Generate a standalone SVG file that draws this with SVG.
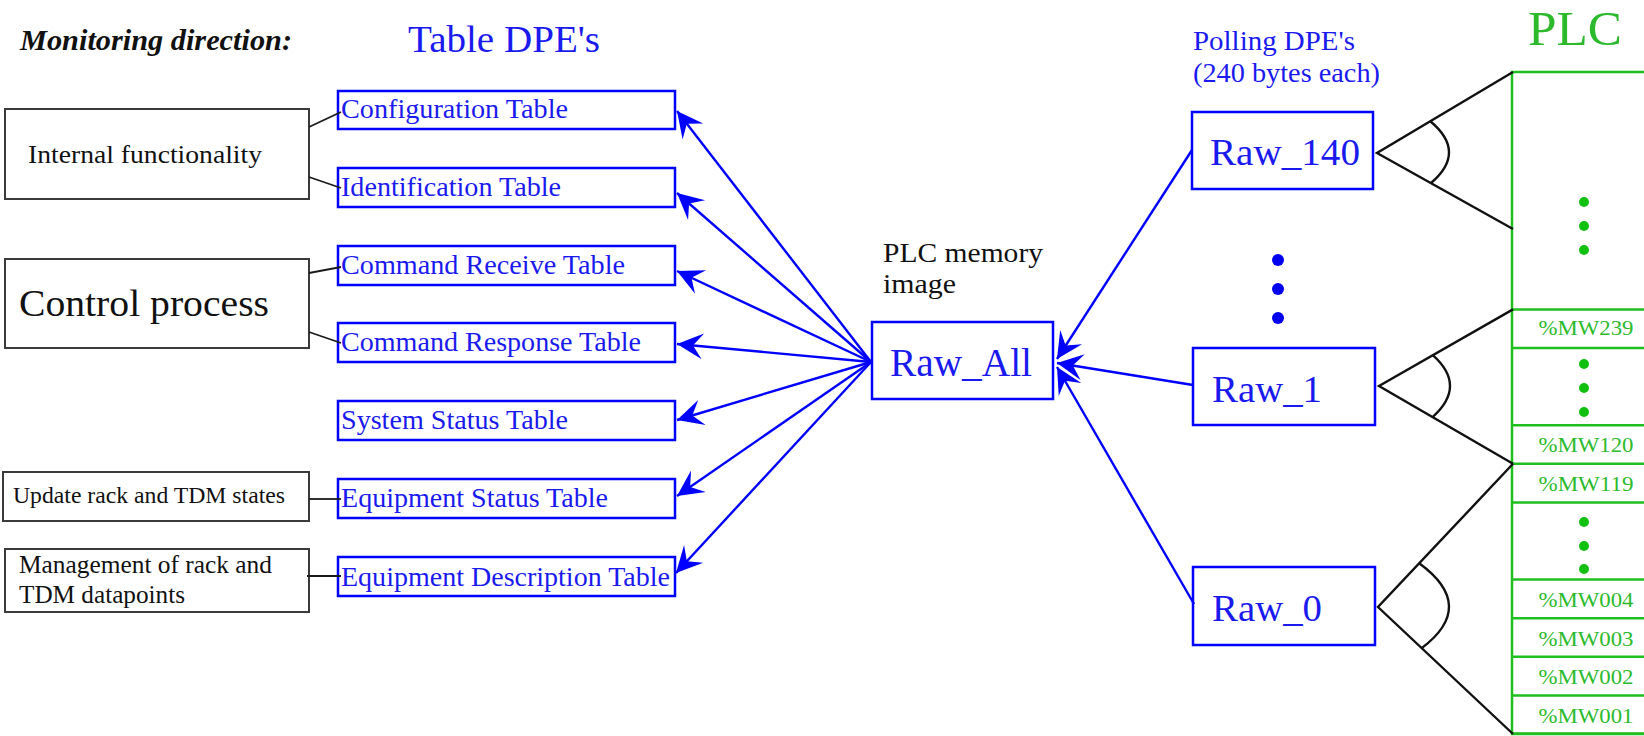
<svg xmlns="http://www.w3.org/2000/svg" width="1644" height="736" viewBox="0 0 1644 736">
<style>
.bg{fill:#ffffff}
.bbox{fill:#ffffff;stroke:#0000ff;stroke-width:2.5}
.kbox{fill:#ffffff;stroke:#3a3a3a;stroke-width:2}
.blink{stroke:#0000ff;stroke-width:2.4;fill:none}
.klink{stroke:#1a1a1a;stroke-width:1.8;fill:none}
.kfan{stroke:#111111;stroke-width:2.4;fill:none}
.g{stroke:#1fbf1f;stroke-width:2.5;fill:none}
.t{font-family:"Liberation Serif","Times New Roman",serif}
.bt{fill:#1a1aee}
.kt{fill:#111111}
.gt{fill:#2cba2c}
.dotb{fill:#0000ee}
.dotg{fill:#12c012}
</style>
<defs>
<marker id="ah" markerUnits="userSpaceOnUse" markerWidth="30" markerHeight="30" viewBox="-28 -15 30 30" refX="0" refY="0" orient="auto" overflow="visible">
<path d="M0,0 L-26,-13 L-16,0 L-26,13 Z" fill="#0000ff"/>
</marker>
</defs>
<rect class="bg" x="0" y="0" width="1644" height="736"/>

<g id="headings">
<text class="t kt" x="20" y="50" font-size="29" font-weight="bold" font-style="italic" textLength="272" lengthAdjust="spacingAndGlyphs">Monitoring direction:</text>
<text class="t bt" x="408" y="52" font-size="38" textLength="192" lengthAdjust="spacingAndGlyphs">Table DPE's</text>
<text class="t bt" x="1193" y="50" font-size="28" textLength="162" lengthAdjust="spacingAndGlyphs">Polling DPE's</text>
<text class="t bt" x="1193" y="82" font-size="28" textLength="187" lengthAdjust="spacingAndGlyphs">(240 bytes each)</text>
<text class="t gt" x="1528" y="45" font-size="49" textLength="94" lengthAdjust="spacingAndGlyphs">PLC</text>
</g>

<g id="internal-functionality">
<rect class="kbox" x="5" y="109" width="304" height="90"/>
<text class="t kt" x="28" y="163" font-size="26" textLength="234" lengthAdjust="spacingAndGlyphs">Internal functionality</text>
</g>
<g id="control-process">
<rect class="kbox" x="5" y="259" width="304" height="89"/>
<text class="t kt" x="19" y="316" font-size="38" textLength="250" lengthAdjust="spacingAndGlyphs">Control process</text>
</g>
<g id="update-rack">
<rect class="kbox" x="3" y="472" width="306" height="49"/>
<text class="t kt" x="13" y="503" font-size="24" textLength="272" lengthAdjust="spacingAndGlyphs">Update rack and TDM states</text>
</g>
<g id="management">
<rect class="kbox" x="5" y="549" width="304" height="63"/>
<text class="t kt" x="19" y="573" font-size="25" textLength="253" lengthAdjust="spacingAndGlyphs">Management of rack and</text>
<text class="t kt" x="19" y="603" font-size="25" textLength="166" lengthAdjust="spacingAndGlyphs">TDM datapoints</text>
</g>

<g id="configuration-table">
<rect class="bbox" x="338" y="91" width="337" height="38"/>
<text class="t bt" x="341" y="118" font-size="28" textLength="227" lengthAdjust="spacingAndGlyphs">Configuration Table</text>
</g>
<g id="identification-table">
<rect class="bbox" x="338" y="168" width="337" height="39"/>
<text class="t bt" x="341" y="196" font-size="28" textLength="220" lengthAdjust="spacingAndGlyphs">Identification Table</text>
</g>
<g id="command-receive-table">
<rect class="bbox" x="338" y="246" width="337" height="39"/>
<text class="t bt" x="341" y="274" font-size="28" textLength="284" lengthAdjust="spacingAndGlyphs">Command Receive Table</text>
</g>
<g id="command-response-table">
<rect class="bbox" x="338" y="323" width="337" height="39"/>
<text class="t bt" x="341" y="351" font-size="28" textLength="300" lengthAdjust="spacingAndGlyphs">Command Response Table</text>
</g>
<g id="system-status-table">
<rect class="bbox" x="338" y="401" width="337" height="39"/>
<text class="t bt" x="341" y="429" font-size="28" textLength="227" lengthAdjust="spacingAndGlyphs">System Status Table</text>
</g>
<g id="equipment-status-table">
<rect class="bbox" x="338" y="479" width="337" height="39"/>
<text class="t bt" x="341" y="507" font-size="28" textLength="267" lengthAdjust="spacingAndGlyphs">Equipment Status Table</text>
</g>
<g id="equipment-description-table">
<rect class="bbox" x="338" y="557" width="337" height="39"/>
<text class="t bt" x="341" y="586" font-size="28" textLength="329" lengthAdjust="spacingAndGlyphs">Equipment Description Table</text>
</g>

<g id="raw-all">
<text class="t kt" x="883" y="262" font-size="28" textLength="160" lengthAdjust="spacingAndGlyphs">PLC memory</text>
<text class="t kt" x="883" y="293" font-size="28" textLength="73" lengthAdjust="spacingAndGlyphs">image</text>
<rect class="bbox" x="872" y="322" width="181" height="77"/>
<text class="t bt" x="890" y="376" font-size="39" textLength="142" lengthAdjust="spacingAndGlyphs">Raw_All</text>
</g>

<g id="raw-140">
<rect class="bbox" x="1192" y="112" width="181" height="77"/>
<text class="t bt" x="1210" y="165" font-size="38" textLength="150" lengthAdjust="spacingAndGlyphs">Raw_140</text>
</g>
<g id="raw-dots">
<circle class="dotb" cx="1278" cy="260" r="6"/>
<circle class="dotb" cx="1278" cy="289" r="6"/>
<circle class="dotb" cx="1278" cy="318" r="6"/>
</g>
<g id="raw-1">
<rect class="bbox" x="1193" y="348" width="182" height="77"/>
<text class="t bt" x="1212" y="402" font-size="38" textLength="110" lengthAdjust="spacingAndGlyphs">Raw_1</text>
</g>
<g id="raw-0">
<rect class="bbox" x="1193" y="567" width="182" height="78"/>
<text class="t bt" x="1212" y="621" font-size="38" textLength="110" lengthAdjust="spacingAndGlyphs">Raw_0</text>
</g>

<g id="plc">
<rect class="g" x="1512" y="72" width="140" height="662"/>
<line class="g" x1="1512" y1="309.4" x2="1644" y2="309.4"/>
<line class="g" x1="1512" y1="348" x2="1644" y2="348"/>
<line class="g" x1="1512" y1="425.2" x2="1644" y2="425.2"/>
<line class="g" x1="1512" y1="463.8" x2="1644" y2="463.8"/>
<line class="g" x1="1512" y1="502.4" x2="1644" y2="502.4"/>
<line class="g" x1="1512" y1="579.6" x2="1644" y2="579.6"/>
<line class="g" x1="1512" y1="618.2" x2="1644" y2="618.2"/>
<line class="g" x1="1512" y1="656.8" x2="1644" y2="656.8"/>
<line class="g" x1="1512" y1="695.4" x2="1644" y2="695.4"/>
<line class="g" x1="1512" y1="733.5" x2="1644" y2="733.5"/>
<circle class="dotg" cx="1584" cy="202" r="5"/>
<circle class="dotg" cx="1584" cy="226" r="5"/>
<circle class="dotg" cx="1584" cy="250" r="5"/>
<circle class="dotg" cx="1584" cy="364" r="5"/>
<circle class="dotg" cx="1584" cy="388" r="5"/>
<circle class="dotg" cx="1584" cy="412" r="5"/>
<circle class="dotg" cx="1584" cy="522" r="5"/>
<circle class="dotg" cx="1584" cy="546" r="5"/>
<circle class="dotg" cx="1584" cy="569" r="5"/>
<text class="t gt" x="1586" y="335" font-size="22" text-anchor="middle" textLength="95" lengthAdjust="spacingAndGlyphs">%MW239</text>
<text class="t gt" x="1586" y="452" font-size="22" text-anchor="middle" textLength="95" lengthAdjust="spacingAndGlyphs">%MW120</text>
<text class="t gt" x="1586" y="491" font-size="22" text-anchor="middle" textLength="95" lengthAdjust="spacingAndGlyphs">%MW119</text>
<text class="t gt" x="1586" y="607" font-size="22" text-anchor="middle" textLength="95" lengthAdjust="spacingAndGlyphs">%MW004</text>
<text class="t gt" x="1586" y="646" font-size="22" text-anchor="middle" textLength="95" lengthAdjust="spacingAndGlyphs">%MW003</text>
<text class="t gt" x="1586" y="684" font-size="22" text-anchor="middle" textLength="95" lengthAdjust="spacingAndGlyphs">%MW002</text>
<text class="t gt" x="1586" y="723" font-size="22" text-anchor="middle" textLength="95" lengthAdjust="spacingAndGlyphs">%MW001</text>
</g>

<g id="connectors">
<line class="klink" x1="309" y1="127" x2="341" y2="112"/>
<line class="klink" x1="309" y1="177" x2="341" y2="188"/>
<line class="klink" x1="309" y1="273" x2="341" y2="267"/>
<line class="klink" x1="309" y1="332" x2="341" y2="343"/>
<line class="klink" x1="309" y1="499" x2="341" y2="499"/>
<line class="klink" x1="307" y1="576" x2="341" y2="576"/>

<line class="blink" x1="871" y1="362" x2="677" y2="111" marker-end="url(#ah)"/>
<line class="blink" x1="871" y1="362" x2="677" y2="193" marker-end="url(#ah)"/>
<line class="blink" x1="871" y1="362" x2="677" y2="271" marker-end="url(#ah)"/>
<line class="blink" x1="871" y1="362" x2="677" y2="344" marker-end="url(#ah)"/>
<line class="blink" x1="871" y1="362" x2="677" y2="420" marker-end="url(#ah)"/>
<line class="blink" x1="871" y1="362" x2="677" y2="496" marker-end="url(#ah)"/>
<line class="blink" x1="871" y1="362" x2="676" y2="573" marker-end="url(#ah)"/>

<line class="blink" x1="1192" y1="150" x2="1057" y2="359" marker-end="url(#ah)"/>
<line class="blink" x1="1193" y1="385" x2="1057" y2="363" marker-end="url(#ah)"/>
<line class="blink" x1="1194" y1="604" x2="1057" y2="367" marker-end="url(#ah)"/>

<polyline class="kfan" points="1513,72 1377,153 1513,229"/>
<path class="kfan" d="M1430,121 Q1467.5,152 1431,183"/>
<polyline class="kfan" points="1513,309.4 1379,386 1513,463.8"/>
<path class="kfan" d="M1432.8,355.2 Q1467.3,386 1432.6,417.1"/>
<polyline class="kfan" points="1513,463.8 1378,607 1513,734"/>
<path class="kfan" d="M1419.2,563.3 Q1477.5,606 1421.7,648.1"/>
</g>
</svg>
